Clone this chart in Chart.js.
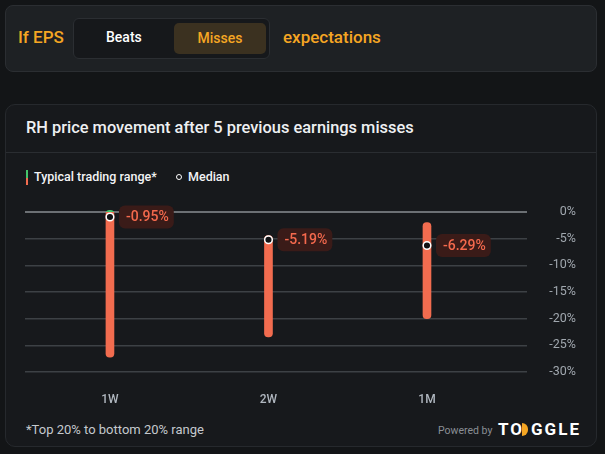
<!DOCTYPE html>
<html>
<head>
<meta charset="utf-8">
<script src="https://cdn.jsdelivr.net/npm/chart.js@4"></script>
<style>
  body { margin: 0; width: 605px; height: 454px; overflow: hidden; background: #131517; font-family: Roboto, sans-serif; position: relative; }
  .card1 { position: absolute; left: 5px; top: 5px; width: 590px; height: 65px; background: #1e2124; border: 1px solid #2b2e32; border-radius: 8px; }
  .ifeps { position: absolute; left: 18px; top: 27px; font-size: 17px; font-weight: 500; color: #f5a623; }
  .toggle { position: absolute; left: 73px; top: 18px; width: 195px; height: 39px; background: #16181b; border: 1px solid #2b2e32; border-radius: 6px; }
  .beats { position: absolute; left: 106px; top: 29px; font-size: 14px; font-weight: 500; color: #fff; }
  .misses { position: absolute; left: 174px; top: 23px; width: 92px; height: 31px; background: #3b3120; border-radius: 5px; color: #f5a623; font-size: 14px; font-weight: 500; text-align: center; line-height: 31px; }
  .expect { position: absolute; left: 283px; top: 27px; font-size: 17px; font-weight: 500; color: #f5a623; }
  .card2 { position: absolute; left: 5px; top: 104px; width: 590px; height: 341px; background: #17191c; border: 1px solid #26292d; border-radius: 10px; }
  .title { position: absolute; left: 26px; top: 118px; font-size: 16.4px; font-weight: 500; color: #eef0f2; }
  .divider { position: absolute; left: 6px; top: 152px; width: 590px; height: 1px; background: #2a2d31; }
  .legend { position: absolute; left: 26px; top: 169px; font-size: 12.5px; font-weight: 500; color: #f2f3f5; height: 16px; }
  .legend .bar { position: absolute; left: 0; top: 1px; width: 2px; height: 15px; background: linear-gradient(#45c46a 50%, #f26c4f 50%); }
  .legend .t1 { position: absolute; left: 8px; top: 0; white-space: nowrap; }
  .legend .dot { position: absolute; left: 150px; top: 5px; width: 4px; height: 4px; border: 1.3px solid #fff; border-radius: 50%; }
  .legend .t2 { position: absolute; left: 162px; top: 0; }
  .foot { position: absolute; left: 26px; top: 422px; font-size: 13px; color: #c5c9ce; }
  .powered { position: absolute; left: 438px; top: 424px; font-size: 10.5px; color: #8a8f95; }
  .logo { position: absolute; left: 498px; top: 419px; font-size: 17px; font-weight: 700; color: #fff; letter-spacing: 2px; white-space: nowrap; }
  .logo .half { display: inline-block; width: 6px; height: 13px; background: #f5a623; border-radius: 0 7px 7px 0; margin-left: -2px; margin-right: 3px; vertical-align: -1px; }
  .wrap { position: absolute; left: 0; top: 190px; width: 605px; height: 225px; }
</style>
</head>
<body>
<div class="card1"></div>
<div class="ifeps">If EPS</div>
<div class="toggle"></div>
<div class="beats">Beats</div>
<div class="misses">Misses</div>
<div class="expect">expectations</div>
<div class="card2"></div>
<div class="title">RH price movement after 5 previous earnings misses</div>
<div class="divider"></div>
<div class="legend"><div class="bar"></div><div class="t1">Typical trading range*</div><div class="dot"></div><div class="t2">Median</div></div>
<div class="foot">*Top 20% to bottom 20% range</div>
<div class="powered">Powered by</div>
<div class="logo">TO<span class="half"></span>GGLE</div>
<div class="wrap"><canvas id="chart"></canvas></div>
<script>
const categories = ['1W', '2W', '1M'];
const rangeHigh = [0.3, -4.4, -2.0];
const rangeLow = [-27.2, -23.4, -20.0];
const medians = [-0.95, -5.19, -6.29];
const yTicks = [0, -5, -10, -15, -20, -25, -30];

const GREEN = '#45c46a';
const ORANGE = '#f26c4f';

// median value tags next to each point
const medianTags = {
  id: 'medianTags',
  afterDatasetsDraw(chart) {
    const c = chart.ctx;
    const meta = chart.getDatasetMeta(1);
    c.save();
    c.font = '500 14px Roboto';
    c.textBaseline = 'middle';
    meta.data.forEach((pt, i) => {
      const txt = medians[i].toFixed(2) + '%';
      const w = c.measureText(txt).width + 12;
      const x = pt.x + 9, y = pt.y;
      c.fillStyle = '#3a1b18';
      c.beginPath();
      c.roundRect(x, y - 11.5, w, 23, 6);
      c.fill();
      c.fillStyle = '#f4694d';
      c.fillText(txt, x + 7, y + 0.5);
    });
    c.restore();
  }
};

new Chart(document.getElementById('chart'), {
  type: 'bar',
  data: {
    datasets: [{
      type: 'bar',
      order: 2,
      data: categories.map((c, i) => ({ x: i, y: [rangeLow[i], rangeHigh[i]] })),
      backgroundColor: (ctx) => {
        const chart = ctx.chart;
        if (!chart.chartArea) return ORANGE;
        const z = chart.scales.y.getPixelForValue(0);
        const g = chart.ctx.createLinearGradient(0, z - 0.5, 0, z + 0.5);
        g.addColorStop(0, GREEN);
        g.addColorStop(1, ORANGE);
        return g;
      },
      barThickness: 8,
      borderRadius: 4,
      borderSkipped: false,
      clip: false
    }, {
      type: 'scatter',
      order: 1,
      data: categories.map((c, i) => ({ x: i, y: medians[i] })),
      pointRadius: 3.8,
      pointBackgroundColor: '#111214',
      pointBorderColor: '#ffffff',
      pointBorderWidth: 1.5,
      showLine: false,
      clip: false
    }]
  },
  options: {
    responsive: true,
    maintainAspectRatio: false,
    animation: false,
    layout: { padding: { left: 25, right: 29, top: 22, bottom: 0 } },
    plugins: { legend: { display: false }, tooltip: { enabled: false } },
    scales: {
      x: {
        type: 'linear',
        offset: false,
        min: -0.536,
        max: 2.631,
        afterBuildTicks: s => { s.ticks = categories.map((c, i) => ({ value: i })); },
        afterFit: s => { s.height = 43; },
        grid: { display: false },
        border: { display: false },
        ticks: {
          color: '#b0b7bf',
          font: { family: 'Roboto', size: 12, weight: '500' },
          padding: 13,
          callback: v => categories[v]
        }
      },
      y: {
        position: 'right',
        min: -30,
        max: 0,
        afterBuildTicks: s => { s.ticks = yTicks.map(v => ({ value: v })); },
        afterFit: s => { s.width = 49; s.paddingTop = 0; s.paddingBottom = 0; },
        border: { display: false },
        grid: {
          drawTicks: false,
          color: ctx => ctx.tick && ctx.tick.value === 0 ? '#6c7074' : '#3d4145',
          lineWidth: ctx => ctx.tick && ctx.tick.value === 0 ? 2 : 1.5
        },
        ticks: {
          color: '#a0a7ae',
          font: { family: 'Roboto', size: 12.5 },
          crossAlign: 'far',
          padding: 22,
          callback: v => v + '%'
        }
      }
    }
  },
  plugins: [medianTags]
});
</script>
</body>
</html>
